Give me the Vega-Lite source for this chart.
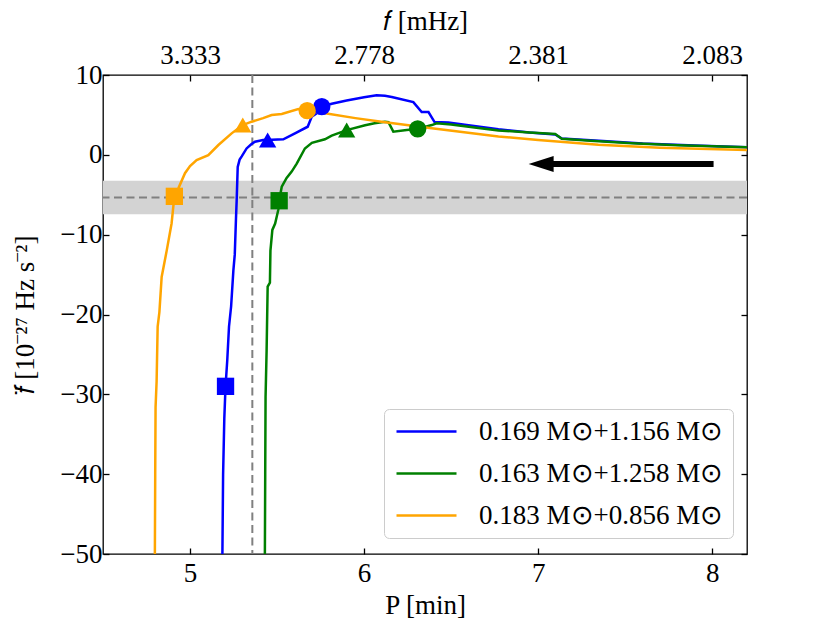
{
  "$schema": "https://vega.github.io/schema/vega-lite/v6.json",
  "width": 644,
  "height": 479,
  "autosize": {"type": "none"},
  "padding": {"left": 103, "top": 75, "right": 83, "bottom": 69},
  "background": "white",
  "config": {
    "view": {"stroke": "black", "strokeWidth": 1.3},
    "font": "Liberation Serif",
    "axis": {
      "labelFont": "Liberation Serif", "titleFont": "Liberation Serif",
      "labelFontSize": 27, "titleFontSize": 27, "titleFontWeight": "normal",
      "labelColor": "black", "titleColor": "black",
      "tickColor": "black", "tickWidth": 1.3, "tickSize": -6,
      "domain": false, "grid": false, "labelPadding": 8
    }
  },
  "datasets": {
    "curves": [
      {"series": "0.169 M⊙+1.156 M⊙", "P": 5.186, "fdd": -50},
      {"series": "0.169 M⊙+1.156 M⊙", "P": 5.190, "fdd": -40},
      {"series": "0.169 M⊙+1.156 M⊙", "P": 5.197, "fdd": -33},
      {"series": "0.169 M⊙+1.156 M⊙", "P": 5.204, "fdd": -29},
      {"series": "0.169 M⊙+1.156 M⊙", "P": 5.214, "fdd": -25.7},
      {"series": "0.169 M⊙+1.156 M⊙", "P": 5.224, "fdd": -21.5},
      {"series": "0.169 M⊙+1.156 M⊙", "P": 5.236, "fdd": -19},
      {"series": "0.169 M⊙+1.156 M⊙", "P": 5.249, "fdd": -14.5},
      {"series": "0.169 M⊙+1.156 M⊙", "P": 5.257, "fdd": -12.5},
      {"series": "0.169 M⊙+1.156 M⊙", "P": 5.264, "fdd": -8},
      {"series": "0.169 M⊙+1.156 M⊙", "P": 5.268, "fdd": -5.7},
      {"series": "0.169 M⊙+1.156 M⊙", "P": 5.274, "fdd": -1.5},
      {"series": "0.169 M⊙+1.156 M⊙", "P": 5.285, "fdd": -0.6},
      {"series": "0.169 M⊙+1.156 M⊙", "P": 5.297, "fdd": -0.2},
      {"series": "0.169 M⊙+1.156 M⊙", "P": 5.325, "fdd": 0.8},
      {"series": "0.169 M⊙+1.156 M⊙", "P": 5.350, "fdd": 1.3},
      {"series": "0.169 M⊙+1.156 M⊙", "P": 5.373, "fdd": 1.64},
      {"series": "0.169 M⊙+1.156 M⊙", "P": 5.420, "fdd": 1.85},
      {"series": "0.169 M⊙+1.156 M⊙", "P": 5.470, "fdd": 1.9},
      {"series": "0.169 M⊙+1.156 M⊙", "P": 5.536, "fdd": 1.94},
      {"series": "0.169 M⊙+1.156 M⊙", "P": 5.603, "fdd": 2.69},
      {"series": "0.169 M⊙+1.156 M⊙", "P": 5.676, "fdd": 3.52},
      {"series": "0.169 M⊙+1.156 M⊙", "P": 5.699, "fdd": 4.77},
      {"series": "0.169 M⊙+1.156 M⊙", "P": 5.728, "fdd": 5.2},
      {"series": "0.169 M⊙+1.156 M⊙", "P": 5.757, "fdd": 6.0},
      {"series": "0.169 M⊙+1.156 M⊙", "P": 5.814, "fdd": 6.4},
      {"series": "0.169 M⊙+1.156 M⊙", "P": 5.900, "fdd": 6.8},
      {"series": "0.169 M⊙+1.156 M⊙", "P": 6.000, "fdd": 7.2},
      {"series": "0.169 M⊙+1.156 M⊙", "P": 6.072, "fdd": 7.45},
      {"series": "0.169 M⊙+1.156 M⊙", "P": 6.120, "fdd": 7.4},
      {"series": "0.169 M⊙+1.156 M⊙", "P": 6.159, "fdd": 7.25},
      {"series": "0.169 M⊙+1.156 M⊙", "P": 6.283, "fdd": 6.6},
      {"series": "0.169 M⊙+1.156 M⊙", "P": 6.331, "fdd": 5.35},
      {"series": "0.169 M⊙+1.156 M⊙", "P": 6.370, "fdd": 5.35},
      {"series": "0.169 M⊙+1.156 M⊙", "P": 6.405, "fdd": 4.1},
      {"series": "0.169 M⊙+1.156 M⊙", "P": 6.484, "fdd": 4.05},
      {"series": "0.169 M⊙+1.156 M⊙", "P": 6.600, "fdd": 3.7},
      {"series": "0.169 M⊙+1.156 M⊙", "P": 6.772, "fdd": 3.2},
      {"series": "0.169 M⊙+1.156 M⊙", "P": 6.950, "fdd": 2.8},
      {"series": "0.169 M⊙+1.156 M⊙", "P": 7.098, "fdd": 2.55},
      {"series": "0.169 M⊙+1.156 M⊙", "P": 7.136, "fdd": 2.05},
      {"series": "0.169 M⊙+1.156 M⊙", "P": 7.350, "fdd": 1.75},
      {"series": "0.169 M⊙+1.156 M⊙", "P": 7.600, "fdd": 1.42},
      {"series": "0.169 M⊙+1.156 M⊙", "P": 7.900, "fdd": 1.17},
      {"series": "0.169 M⊙+1.156 M⊙", "P": 8.200, "fdd": 0.94},

      {"series": "0.163 M⊙+1.258 M⊙", "P": 5.430, "fdd": -50},
      {"series": "0.163 M⊙+1.258 M⊙", "P": 5.432, "fdd": -40},
      {"series": "0.163 M⊙+1.258 M⊙", "P": 5.434, "fdd": -30.3},
      {"series": "0.163 M⊙+1.258 M⊙", "P": 5.440, "fdd": -24.5},
      {"series": "0.163 M⊙+1.258 M⊙", "P": 5.446, "fdd": -16.5},
      {"series": "0.163 M⊙+1.258 M⊙", "P": 5.459, "fdd": -16.0},
      {"series": "0.163 M⊙+1.258 M⊙", "P": 5.462, "fdd": -12},
      {"series": "0.163 M⊙+1.258 M⊙", "P": 5.473, "fdd": -9.4},
      {"series": "0.163 M⊙+1.258 M⊙", "P": 5.489, "fdd": -8.6},
      {"series": "0.163 M⊙+1.258 M⊙", "P": 5.507, "fdd": -6.9},
      {"series": "0.163 M⊙+1.258 M⊙", "P": 5.512, "fdd": -5.75},
      {"series": "0.163 M⊙+1.258 M⊙", "P": 5.527, "fdd": -4.0},
      {"series": "0.163 M⊙+1.258 M⊙", "P": 5.555, "fdd": -2.9},
      {"series": "0.163 M⊙+1.258 M⊙", "P": 5.584, "fdd": -2.1},
      {"series": "0.163 M⊙+1.258 M⊙", "P": 5.613, "fdd": -1.1},
      {"series": "0.163 M⊙+1.258 M⊙", "P": 5.660, "fdd": 0.8},
      {"series": "0.163 M⊙+1.258 M⊙", "P": 5.700, "fdd": 1.5},
      {"series": "0.163 M⊙+1.258 M⊙", "P": 5.775, "fdd": 1.95},
      {"series": "0.163 M⊙+1.258 M⊙", "P": 5.814, "fdd": 2.4},
      {"series": "0.163 M⊙+1.258 M⊙", "P": 5.900, "fdd": 3.1},
      {"series": "0.163 M⊙+1.258 M⊙", "P": 6.006, "fdd": 3.7},
      {"series": "0.163 M⊙+1.258 M⊙", "P": 6.060, "fdd": 3.95},
      {"series": "0.163 M⊙+1.258 M⊙", "P": 6.120, "fdd": 4.15},
      {"series": "0.163 M⊙+1.258 M⊙", "P": 6.140, "fdd": 4.1},
      {"series": "0.163 M⊙+1.258 M⊙", "P": 6.168, "fdd": 2.9},
      {"series": "0.163 M⊙+1.258 M⊙", "P": 6.245, "fdd": 3.1},
      {"series": "0.163 M⊙+1.258 M⊙", "P": 6.308, "fdd": 3.25},
      {"series": "0.163 M⊙+1.258 M⊙", "P": 6.389, "fdd": 3.73},
      {"series": "0.163 M⊙+1.258 M⊙", "P": 6.417, "fdd": 3.95},
      {"series": "0.163 M⊙+1.258 M⊙", "P": 6.500, "fdd": 3.8},
      {"series": "0.163 M⊙+1.258 M⊙", "P": 6.657, "fdd": 3.35},
      {"series": "0.163 M⊙+1.258 M⊙", "P": 6.772, "fdd": 3.05},
      {"series": "0.163 M⊙+1.258 M⊙", "P": 6.950, "fdd": 2.8},
      {"series": "0.163 M⊙+1.258 M⊙", "P": 7.098, "fdd": 2.6},
      {"series": "0.163 M⊙+1.258 M⊙", "P": 7.136, "fdd": 2.0},
      {"series": "0.163 M⊙+1.258 M⊙", "P": 7.300, "fdd": 1.75},
      {"series": "0.163 M⊙+1.258 M⊙", "P": 7.538, "fdd": 1.44},
      {"series": "0.163 M⊙+1.258 M⊙", "P": 7.800, "fdd": 1.2},
      {"series": "0.163 M⊙+1.258 M⊙", "P": 8.200, "fdd": 0.94},

      {"series": "0.183 M⊙+0.856 M⊙", "P": 4.798, "fdd": -50},
      {"series": "0.183 M⊙+0.856 M⊙", "P": 4.800, "fdd": -40},
      {"series": "0.183 M⊙+0.856 M⊙", "P": 4.802, "fdd": -31.6},
      {"series": "0.183 M⊙+0.856 M⊙", "P": 4.808, "fdd": -28.4},
      {"series": "0.183 M⊙+0.856 M⊙", "P": 4.814, "fdd": -21.5},
      {"series": "0.183 M⊙+0.856 M⊙", "P": 4.824, "fdd": -19.7},
      {"series": "0.183 M⊙+0.856 M⊙", "P": 4.837, "fdd": -15.3},
      {"series": "0.183 M⊙+0.856 M⊙", "P": 4.866, "fdd": -12.0},
      {"series": "0.183 M⊙+0.856 M⊙", "P": 4.894, "fdd": -8.6},
      {"series": "0.183 M⊙+0.856 M⊙", "P": 4.910, "fdd": -5.2},
      {"series": "0.183 M⊙+0.856 M⊙", "P": 4.933, "fdd": -4.2},
      {"series": "0.183 M⊙+0.856 M⊙", "P": 4.971, "fdd": -2.3},
      {"series": "0.183 M⊙+0.856 M⊙", "P": 5.000, "fdd": -1.4},
      {"series": "0.183 M⊙+0.856 M⊙", "P": 5.038, "fdd": -0.65},
      {"series": "0.183 M⊙+0.856 M⊙", "P": 5.105, "fdd": -0.03},
      {"series": "0.183 M⊙+0.856 M⊙", "P": 5.163, "fdd": 1.23},
      {"series": "0.183 M⊙+0.856 M⊙", "P": 5.239, "fdd": 2.69},
      {"series": "0.183 M⊙+0.856 M⊙", "P": 5.303, "fdd": 3.73},
      {"series": "0.183 M⊙+0.856 M⊙", "P": 5.354, "fdd": 4.15},
      {"series": "0.183 M⊙+0.856 M⊙", "P": 5.420, "fdd": 4.6},
      {"series": "0.183 M⊙+0.856 M⊙", "P": 5.469, "fdd": 4.99},
      {"series": "0.183 M⊙+0.856 M⊙", "P": 5.527, "fdd": 5.11},
      {"series": "0.183 M⊙+0.856 M⊙", "P": 5.622, "fdd": 5.74},
      {"series": "0.183 M⊙+0.856 M⊙", "P": 5.673, "fdd": 5.53},
      {"series": "0.183 M⊙+0.856 M⊙", "P": 5.776, "fdd": 5.2},
      {"series": "0.183 M⊙+0.856 M⊙", "P": 5.950, "fdd": 4.6},
      {"series": "0.183 M⊙+0.856 M⊙", "P": 6.100, "fdd": 4.15},
      {"series": "0.183 M⊙+0.856 M⊙", "P": 6.389, "fdd": 3.32},
      {"series": "0.183 M⊙+0.856 M⊙", "P": 6.772, "fdd": 2.3},
      {"series": "0.183 M⊙+0.856 M⊙", "P": 7.000, "fdd": 1.85},
      {"series": "0.183 M⊙+0.856 M⊙", "P": 7.346, "fdd": 1.25},
      {"series": "0.183 M⊙+0.856 M⊙", "P": 7.700, "fdd": 0.9},
      {"series": "0.183 M⊙+0.856 M⊙", "P": 8.200, "fdd": 0.6}
    ],
    "markers": [
      {"series": "0.169 M⊙+1.156 M⊙", "stage": "A", "P": 5.204, "fdd": -29.0},
      {"series": "0.169 M⊙+1.156 M⊙", "stage": "B", "P": 5.446, "fdd": 1.85},
      {"series": "0.169 M⊙+1.156 M⊙", "stage": "C", "P": 5.757, "fdd": 6.03},
      {"series": "0.163 M⊙+1.258 M⊙", "stage": "A", "P": 5.512, "fdd": -5.75},
      {"series": "0.163 M⊙+1.258 M⊙", "stage": "B", "P": 5.900, "fdd": 3.1},
      {"series": "0.163 M⊙+1.258 M⊙", "stage": "C", "P": 6.308, "fdd": 3.25},
      {"series": "0.183 M⊙+0.856 M⊙", "stage": "A", "P": 4.910, "fdd": -5.2},
      {"series": "0.183 M⊙+0.856 M⊙", "stage": "B", "P": 5.303, "fdd": 3.73},
      {"series": "0.183 M⊙+0.856 M⊙", "stage": "C", "P": 5.673, "fdd": 5.53}
    ],
    "band": [{"lo": -7.45, "hi": -3.25, "mid": -5.33}],
    "vline": [{"P": 5.358}],
    "arrow": [{"x0": 7.05, "x1": 8.008, "xh": 7.017, "y": -1.15}]
  },
  "resolve": {"axis": {"x": "independent", "y": "independent"}},
  "layer": [
    {
      "data": {"name": "band"},
      "mark": {"type": "rect", "color": "#d3d3d3"},
      "encoding": {
        "x": {"datum": 4.5, "type": "quantitative", "scale": {"domain": [4.5, 8.2], "nice": false, "zero": false}, "axis": null},
        "x2": {"datum": 8.2},
        "y": {"field": "lo", "type": "quantitative", "scale": {"domain": [-50, 10], "nice": false, "zero": false}, "axis": null},
        "y2": {"field": "hi"}
      }
    },
    {
      "data": {"name": "band"},
      "mark": {"type": "rule", "color": "#808080", "strokeWidth": 2, "strokeDash": [8, 4.5]},
      "encoding": {
        "y": {"field": "mid", "type": "quantitative", "axis": {"orient": "right", "labels": false, "title": null, "values": [-50, -40, -30, -20, -10, 0, 10]}}
      }
    },
    {
      "data": {"name": "vline"},
      "mark": {"type": "rule", "color": "#808080", "strokeWidth": 2, "strokeDash": [8, 4.5]},
      "encoding": {
        "x": {"field": "P", "type": "quantitative", "axis": {"orient": "top", "title": "𝑓 [mHz]", "values": [5, 6, 7, 8], "labelExpr": "format(1000/(60*datum.value), '.3f')", "labelPadding": 12, "titlePadding": 6}}
      }
    },
    {
      "data": {"name": "curves"},
      "mark": {"type": "line", "strokeWidth": 2.5, "clip": true},
      "encoding": {
        "x": {"field": "P", "type": "quantitative", "axis": {"orient": "bottom", "title": "P [min]", "values": [5, 6, 7, 8], "labelPadding": 12, "titlePadding": 6}},
        "y": {"field": "fdd", "type": "quantitative", "axis": {"orient": "left", "title": "𝑓̈ [10⁻²⁷ Hz s⁻²]", "values": [-50, -40, -30, -20, -10, 0, 10], "titlePadding": 20, "labelPadding": 7}},
        "color": {
          "field": "series", "type": "nominal",
          "scale": {"domain": ["0.169 M⊙+1.156 M⊙", "0.163 M⊙+1.258 M⊙", "0.183 M⊙+0.856 M⊙"], "range": ["#0000ff", "#008000", "#ffa500"]},
          "legend": {
            "orient": "none", "legendX": 281, "legendY": 334, "title": null,
            "symbolType": "M -1 0 L 5 0", "symbolSize": 400, "symbolStrokeWidth": 2.5,
            "labelFont": "Liberation Serif", "labelFontSize": 27, "labelColor": "black",
            "labelOffset": 59, "rowPadding": 14, "padding": 9, "labelLimit": 500,
            "strokeColor": "#cccccc", "fillColor": "white", "cornerRadius": 5
          }
        }
      }
    },
    {
      "data": {"name": "markers"},
      "mark": {"type": "point", "filled": true, "opacity": 1, "size": 300, "clip": true},
      "encoding": {
        "x": {"field": "P", "type": "quantitative", "axis": null},
        "y": {"field": "fdd", "type": "quantitative", "axis": null},
        "color": {"field": "series", "type": "nominal", "legend": null},
        "shape": {"field": "stage", "type": "nominal", "scale": {"domain": ["A", "B", "C"], "range": ["square", "triangle-up", "circle"]}, "legend": null}
      }
    },
    {
      "data": {"name": "arrow"},
      "mark": {"type": "rule", "color": "black", "strokeWidth": 6},
      "encoding": {
        "x": {"field": "x0", "type": "quantitative", "axis": null},
        "x2": {"field": "x1"},
        "y": {"field": "y", "type": "quantitative", "axis": null}
      }
    },
    {
      "data": {"name": "arrow"},
      "mark": {"type": "point", "filled": true, "opacity": 1, "color": "black", "size": 625, "shape": "M -1 0 L 1 -0.64 L 1 0.64 Z"},
      "encoding": {
        "x": {"field": "xh", "type": "quantitative", "axis": null},
        "y": {"field": "y", "type": "quantitative", "axis": null}
      }
    }
  ]
}
